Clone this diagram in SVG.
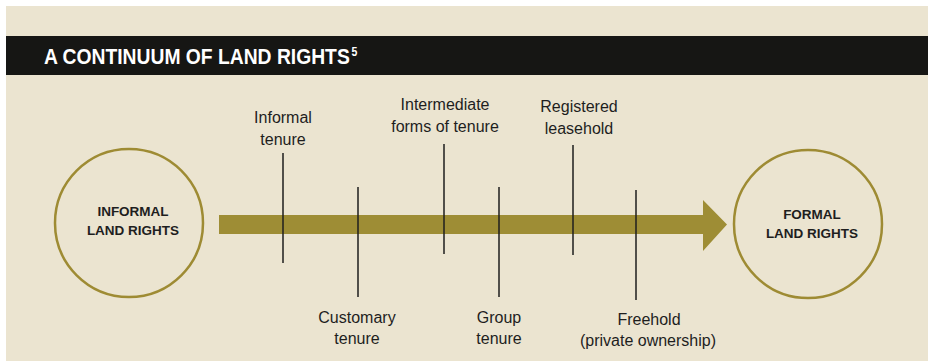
<svg xmlns="http://www.w3.org/2000/svg" width="928" height="361" viewBox="0 0 928 361">
<style>
.lbl{font-family:"Liberation Sans",Arial,sans-serif;font-size:16px;fill:#1e1e1e;text-anchor:middle}
.ctx{font-family:"Liberation Sans",Arial,sans-serif;font-size:13.5px;font-weight:bold;fill:#1e1e1e;text-anchor:middle}
.tick{stroke:#1e1e1e;stroke-width:1.5;fill:none}
.circ{fill:none;stroke:#9e8b33;stroke-width:2.5}
</style>
<rect x="0" y="0" width="928" height="361" fill="#ffffff"/>
<rect x="6" y="6" width="922" height="355" fill="#ebe4d0"/>
<rect x="6" y="36" width="922" height="39" fill="#161614"/>
<text transform="translate(44,64) scale(0.877,1)" x="0" y="0" font-family="'Liberation Sans',Arial,sans-serif" font-size="22" font-weight="bold" fill="#ffffff">A CONTINUUM OF LAND RIGHTS<tspan dx="2" dy="-8" font-size="12">5</tspan></text>

<g id="connectors">
<path id="arrow" d="M219 215 H703 V200 L727 224.5 L703 251 V234 H219 Z" fill="#9e8d35"/>
<line class="tick" x1="283" y1="153" x2="283" y2="263"/>
<line class="tick" x1="358" y1="187" x2="358" y2="297"/>
<line class="tick" x1="444" y1="144" x2="444" y2="254"/>
<line class="tick" x1="499" y1="187" x2="499" y2="297"/>
<line class="tick" x1="573" y1="145" x2="573" y2="255"/>
<line class="tick" x1="636" y1="190" x2="636" y2="300"/>
</g>

<g id="informal">
<circle class="circ" cx="129" cy="223" r="74"/>
<text class="ctx" x="133" y="216">INFORMAL</text>
<text class="ctx" x="133" y="235">LAND RIGHTS</text>
</g>
<g id="formal">
<circle class="circ" cx="808" cy="224" r="74"/>
<text class="ctx" x="812" y="219">FORMAL</text>
<text class="ctx" x="812" y="238">LAND RIGHTS</text>
</g>

<g id="informal-tenure"><text class="lbl" x="283" y="123">Informal</text><text class="lbl" x="283" y="145">tenure</text></g>
<g id="customary-tenure"><text class="lbl" x="357" y="323">Customary</text><text class="lbl" x="357" y="344">tenure</text></g>
<g id="intermediate"><text class="lbl" x="445" y="110">Intermediate</text><text class="lbl" x="445" y="132">forms of tenure</text></g>
<g id="group-tenure"><text class="lbl" x="499" y="323">Group</text><text class="lbl" x="499" y="344">tenure</text></g>
<g id="registered-leasehold"><text class="lbl" x="579" y="112">Registered</text><text class="lbl" x="579" y="134">leasehold</text></g>
<g id="freehold"><text class="lbl" x="649" y="325">Freehold</text><text class="lbl" x="648" y="346">(private ownership)</text></g>
</svg>
